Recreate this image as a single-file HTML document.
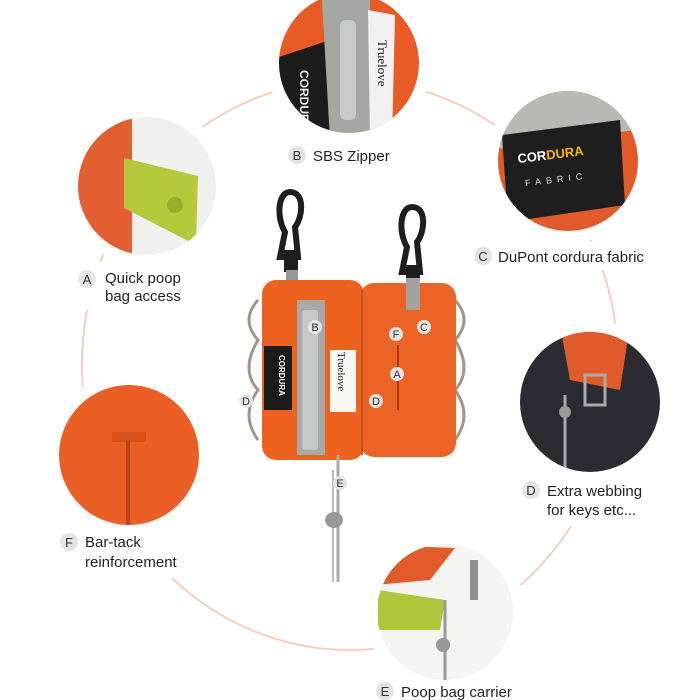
<!DOCTYPE html>
<html><head><meta charset="utf-8"><style>
html,body{margin:0;padding:0;background:#fff}
svg{display:block}
text{font-family:"Liberation Sans",sans-serif;fill:#222}
.b{fill:#e4e4e4}
.bl{font-size:11px;fill:#333;text-anchor:middle}
.t{font-size:15px}
</style></head><body>
<svg width="700" height="700" viewBox="0 0 700 700">
<defs>
<clipPath id="c1"><circle cx="349" cy="63" r="70"/></clipPath>
<clipPath id="c2"><circle cx="568" cy="161" r="70"/></clipPath>
<clipPath id="c3"><circle cx="147" cy="186" r="69"/></clipPath>
<clipPath id="c4"><circle cx="590" cy="402" r="70"/></clipPath>
<clipPath id="c5"><circle cx="129" cy="455" r="70"/></clipPath>
<clipPath id="c6"><circle cx="445" cy="612" r="68"/></clipPath>
</defs>
<ellipse cx="350" cy="365" rx="268" ry="285" fill="none" stroke="#f2d2bd" stroke-width="2"/>
<!-- white masks around photos / labels -->
<g fill="#fff">
<circle cx="349" cy="63" r="82"/><circle cx="568" cy="161" r="82"/><circle cx="147" cy="186" r="81"/>
<circle cx="590" cy="402" r="82"/><circle cx="129" cy="455" r="82"/><circle cx="445" cy="612" r="80"/>
<rect x="280" y="142" width="130" height="26"/><rect x="468" y="242" width="195" height="28"/>
<rect x="72" y="262" width="125" height="48"/><rect x="515" y="474" width="145" height="52"/>
<rect x="52" y="526" width="145" height="52"/><rect x="370" y="676" width="165" height="24"/>
</g>
<!-- top photo B -->
<g clip-path="url(#c1)">
<rect x="270" y="-10" width="160" height="150" fill="#e85a26"/>
<polygon points="270,60 330,40 330,140 270,140" fill="#1c1c1c"/>
<polygon points="322,0 370,0 372,140 330,140" fill="#a5a8a2"/>
<rect x="340" y="20" width="16" height="100" rx="6" fill="#c9ccc6"/>
<polygon points="368,10 395,15 392,140 370,140" fill="#f1f1f1"/>
<text x="0" y="0" transform="translate(300,70) rotate(90)" style="font-size:12px;font-weight:bold;fill:#eee">CORDURA</text>
<text x="0" y="0" transform="translate(378,40) rotate(90)" style="font-size:13px;fill:#222;font-family:'Liberation Serif',serif">Truelove</text>
</g>
<!-- C photo -->
<g clip-path="url(#c2)">
<rect x="490" y="85" width="160" height="160" fill="#e25a28"/>
<polygon points="490,85 650,85 650,128 490,150" fill="#b8b9b2"/>
<polygon points="502,135 620,120 625,205 508,222" fill="#1e1e1e"/>
<text x="518" y="158" style="font-size:13px;font-weight:bold;fill:#fff" transform="rotate(-7 560 160)">COR<tspan style="fill:#f5b700">DURA</tspan></text>
<text x="525" y="182" style="font-size:9px;fill:#ddd;letter-spacing:5px" transform="rotate(-7 560 180)">FABRIC</text>
</g>
<!-- A photo -->
<g clip-path="url(#c3)">
<rect x="70" y="110" width="160" height="160" fill="#f0f0ee"/>
<rect x="70" y="110" width="62" height="160" fill="#e35e30"/>
<polygon points="124,158 198,176 196,245 124,208" fill="#b6c93a"/>
<circle cx="175" cy="205" r="8" fill="#9aae2a"/>
</g>
<!-- D photo -->
<g clip-path="url(#c4)">
<rect x="515" y="325" width="150" height="150" fill="#2a2c31"/>
<polygon points="560,325 630,325 620,390 570,380" fill="#e05a2a"/>
<rect x="585" y="375" width="20" height="30" fill="none" stroke="#aaa" stroke-width="3"/>
<line x1="565" y1="395" x2="565" y2="470" stroke="#aaa" stroke-width="3"/>
<circle cx="565" cy="412" r="6" fill="#999"/>
</g>
<!-- F photo -->
<g clip-path="url(#c5)">
<rect x="55" y="380" width="150" height="150" fill="#eb5f24"/>
<rect x="112" y="432" width="34" height="10" fill="#d9501c"/>
<rect x="126" y="440" width="4" height="90" fill="#b8461a"/>
</g>
<!-- E photo -->
<g clip-path="url(#c6)">
<rect x="375" y="540" width="140" height="140" fill="#f4f4f2"/>
<polygon points="375,545 455,548 430,580 375,585" fill="#e25c2a"/>
<polygon points="378,590 445,600 440,630 378,630" fill="#b1c53a"/>
<line x1="445" y1="600" x2="445" y2="680" stroke="#999" stroke-width="3"/>
<rect x="470" y="560" width="8" height="40" fill="#8f8f8f"/>
<circle cx="443" cy="645" r="7" fill="#999"/>
</g>
<!-- central product -->
<g>
<path d="M290,192 c-12,0 -14,25 -5,40 l-5,25 l18,0 l-3,-30 c8,-10 10,-35 -5,-35z" fill="none" stroke="#1e1e1e" stroke-width="6"/>
<rect x="284" y="250" width="14" height="22" fill="#1e1e1e"/>
<rect x="286" y="270" width="12" height="12" fill="#999"/>
<path d="M412,207 c-12,0 -14,25 -5,40 l-5,25 l18,0 l-3,-30 c8,-10 10,-35 -5,-35z" fill="none" stroke="#1e1e1e" stroke-width="6"/>
<rect x="406" y="265" width="14" height="18" fill="#1e1e1e"/>
<path d="M258,300 q-18,20 0,40 q-18,30 0,50 q-18,25 0,50" fill="none" stroke="#a79387" stroke-width="3"/>
<path d="M455,300 q18,20 0,40 q18,30 0,50 q18,25 0,50" fill="none" stroke="#a79387" stroke-width="3"/>
<rect x="262" y="280" width="102" height="180" rx="14" fill="#ee6220"/>
<rect x="360" y="283" width="96" height="174" rx="14" fill="#ec6326"/>
<line x1="362" y1="290" x2="362" y2="455" stroke="#c94f1a" stroke-width="2"/>
<rect x="406" y="278" width="14" height="32" fill="#a2a2a2"/>
<line x1="398" y1="345" x2="398" y2="410" stroke="#a83d12" stroke-width="2"/>
<rect x="297" y="300" width="28" height="155" fill="#a7a9a8"/>
<rect x="302" y="310" width="16" height="140" rx="3" fill="#c6c8c6"/>
<rect x="264" y="346" width="28" height="64" fill="#1b1b1b"/>
<text transform="translate(279,355) rotate(90)" style="font-size:8px;font-weight:bold;fill:#fff">CORDURA</text>
<rect x="330" y="350" width="26" height="62" fill="#f6f6f4"/>
<text transform="translate(338,352) rotate(90)" style="font-size:11px;fill:#222;font-family:'Liberation Serif',serif">Truelove</text>
<line x1="338" y1="455" x2="338" y2="582" stroke="#aaa" stroke-width="3"/>
<line x1="333" y1="470" x2="333" y2="582" stroke="#bbb" stroke-width="2"/>
<ellipse cx="334" cy="520" rx="9" ry="8" fill="#999"/>
<g><circle cx="315" cy="327" r="7" class="b"/><text x="315" y="331" class="bl">B</text>
<circle cx="424" cy="327" r="7" class="b"/><text x="424" y="331" class="bl">C</text>
<circle cx="396" cy="334" r="7" class="b"/><text x="396" y="338" class="bl">F</text>
<circle cx="397" cy="374" r="7" class="b"/><text x="397" y="378" class="bl">A</text>
<circle cx="246" cy="401" r="7" class="b"/><text x="246" y="405" class="bl">D</text>
<circle cx="376" cy="401" r="7" class="b"/><text x="376" y="405" class="bl">D</text>
<circle cx="340" cy="483" r="7" class="b"/><text x="340" y="487" class="bl">E</text></g>
</g>
<!-- labels -->
<circle cx="297" cy="155" r="9" class="b"/><text x="297" y="160" class="bl" style="font-size:13px">B</text>
<text x="313" y="161" class="t">SBS Zipper</text>
<circle cx="483" cy="256" r="9" class="b"/><text x="483" y="261" class="bl" style="font-size:13px">C</text>
<text x="498" y="262" class="t">DuPont cordura fabric</text>
<circle cx="87" cy="279" r="9" class="b"/><text x="87" y="284" class="bl" style="font-size:13px">A</text>
<text x="105" y="283" class="t">Quick poop</text><text x="105" y="301" class="t">bag access</text>
<circle cx="531" cy="490" r="9" class="b"/><text x="531" y="495" class="bl" style="font-size:13px">D</text>
<text x="547" y="496" class="t">Extra webbing</text><text x="547" y="515" class="t">for keys etc...</text>
<circle cx="69" cy="542" r="9" class="b"/><text x="69" y="547" class="bl" style="font-size:13px">F</text>
<text x="85" y="547" class="t">Bar-tack</text><text x="85" y="567" class="t">reinforcement</text>
<circle cx="385" cy="691" r="9" class="b"/><text x="385" y="696" class="bl" style="font-size:13px">E</text>
<text x="401" y="697" class="t">Poop bag carrier</text>
</svg>
</body></html>
